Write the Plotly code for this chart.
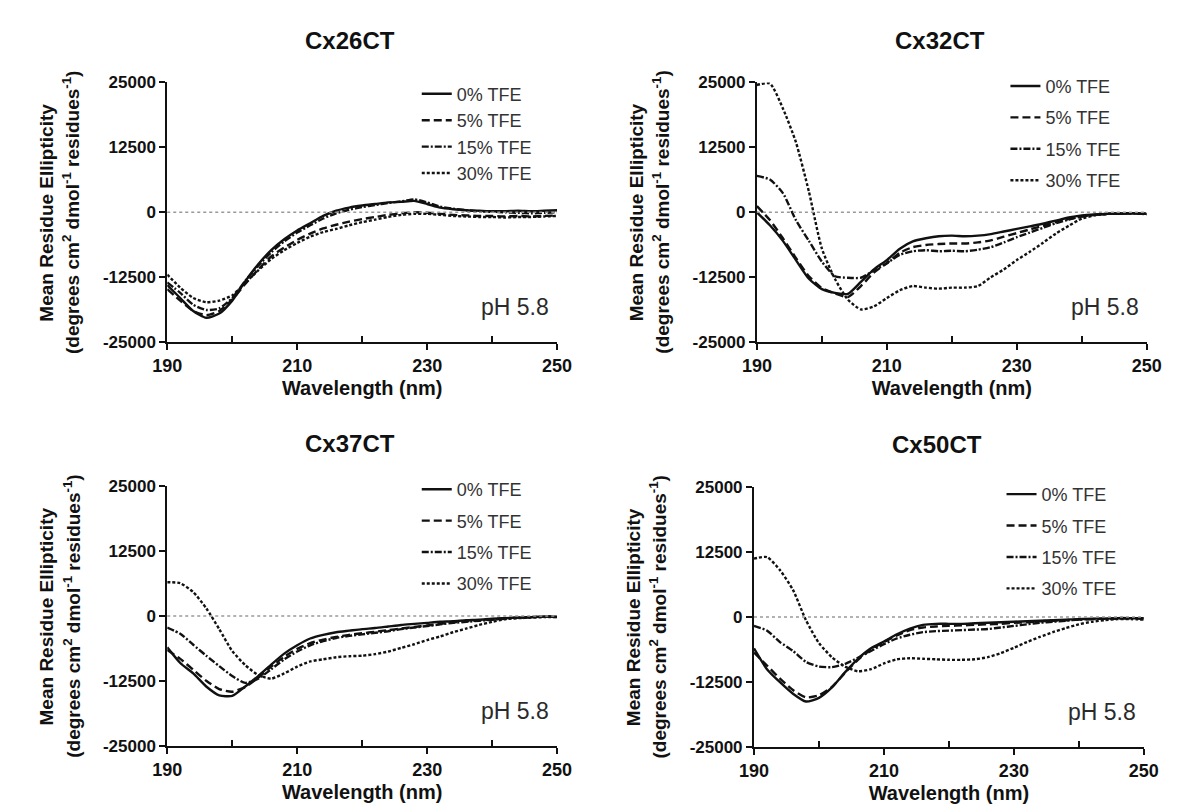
import plotly.graph_objects as go

# ---------------- data ----------------
wavelength = list(range(190, 251, 2))
series_names = ["0% TFE", "5% TFE", "15% TFE", "30% TFE"]
panel_titles = ["Cx26CT", "Cx32CT", "Cx37CT", "Cx50CT"]
y_ticks = [-25000, -12500, 0, 12500, 25000]
y_tick_text = ["-25000", "-12500", "0", "12500", "25000"]
x_ticks = [190, 210, 230, 250]
x_minor = [200, 220, 240]

cx26_0 = [-14000, -16500, -19000, -20300, -19500, -17000, -13300, -10000, -7300, -5200, -3500, -2100, -700, 300, 900, 1300, 1600, 1900, 2000, 2200, 1600, 900, 600, 400, 300, 200, 200, 300, 200, 300, 400]
cx26_5 = [-14800, -17000, -19000, -19800, -19000, -16800, -13800, -11000, -8500, -6800, -5300, -4100, -3100, -2400, -1800, -1300, -900, -500, -200, 0, -100, -300, -500, -600, -700, -700, -800, -700, -800, -700, -600]
cx26_15 = [-13500, -15500, -17800, -18800, -18500, -16500, -13200, -10300, -7700, -5600, -3900, -2500, -1200, -200, 500, 1000, 1400, 1800, 2100, 2500, 1900, 1100, 700, 400, 200, 100, 0, -100, -200, -100, 0]
cx26_30 = [-12000, -14500, -16500, -17300, -17000, -16000, -13600, -11200, -9000, -7300, -5900, -4700, -3800, -3200, -2500, -1900, -1400, -900, -500, -300, -300, -500, -700, -800, -900, -900, -1000, -900, -900, -800, -700]

cx32_0 = [0, -2500, -5500, -9200, -12800, -14800, -15500, -15700, -13400, -11000, -9200, -7000, -5600, -5000, -4600, -4500, -4600, -4500, -4200, -3700, -3200, -2700, -2200, -1600, -1000, -600, -400, -300, -200, -200, -300]
cx32_5 = [1200, -1500, -5000, -8800, -12300, -14600, -15600, -16300, -14200, -11600, -9800, -7800, -6700, -6300, -6100, -6000, -6000, -5800, -5400, -4700, -4000, -3300, -2600, -1900, -1300, -800, -500, -300, -300, -200, -300]
cx32_15 = [7000, 6300, 3700, -1500, -5500, -9500, -12300, -12600, -12600, -11200, -9800, -8200, -7500, -7300, -7500, -7400, -7500, -7200, -6700, -5800, -4800, -3900, -3000, -2100, -1400, -800, -500, -300, -300, -200, -400]
cx32_30 = [24500, 24800, 20000, 13500, 4000, -7000, -12800, -16800, -18700, -18100, -16500, -15000, -14200, -14500, -14700, -14500, -14500, -14200, -12500, -11000, -9200, -7600, -5900, -4100, -2600, -1200, -600, -300, -200, -200, -300]

cx37_0 = [-6000, -9000, -11000, -13500, -15200, -15300, -13500, -11500, -9300, -7200, -5600, -4300, -3600, -3100, -2800, -2500, -2300, -2000, -1700, -1500, -1300, -1100, -1000, -800, -700, -500, -400, -300, -200, -100, -100]
cx37_5 = [-6500, -8200, -10300, -12400, -14000, -14500, -13600, -11800, -9700, -7800, -6300, -5200, -4500, -4000, -3600, -3300, -3000, -2700, -2400, -2100, -1800, -1500, -1200, -1000, -800, -600, -400, -300, -200, -100, -100]
cx37_15 = [-2200, -3400, -5500, -7600, -9600, -11500, -12800, -12000, -10200, -8300, -6800, -5600, -4800, -4200, -3800, -3500, -3200, -2900, -2500, -2200, -1900, -1600, -1300, -1100, -900, -700, -500, -300, -200, -100, -200]
cx37_30 = [6500, 6300, 4600, 1500, -2500, -6700, -9400, -11300, -12000, -11000, -9700, -8700, -8300, -7900, -7700, -7600, -7300, -6800, -6100, -5400, -4600, -3900, -3100, -2400, -1700, -1100, -600, -400, -300, -200, -200]

cx50_0 = [-6000, -10000, -12500, -14700, -16200, -15500, -13500, -10600, -8000, -6000, -4700, -3300, -2200, -1500, -1300, -1300, -1300, -1200, -1100, -1000, -900, -800, -700, -600, -500, -400, -300, -300, -200, -200, -200]
cx50_5 = [-6800, -9300, -11800, -14000, -15400, -15000, -13400, -10700, -8200, -6200, -4800, -3500, -2500, -2000, -1800, -1700, -1600, -1500, -1400, -1300, -1100, -1000, -800, -700, -600, -500, -400, -300, -300, -200, -300]
cx50_15 = [-1700, -2600, -4800, -6500, -8600, -9500, -9600, -9000, -7800, -6500, -5200, -4100, -3400, -2900, -2700, -2600, -2500, -2400, -2300, -2000, -1700, -1400, -1100, -900, -700, -500, -400, -300, -300, -200, -300]
cx50_30 = [11200, 11500, 9000, 5200, -600, -5000, -7700, -9500, -10400, -10000, -8900, -8100, -7900, -8000, -8100, -8200, -8200, -8100, -7700, -6900, -5900, -4800, -3800, -2900, -2100, -1400, -900, -600, -400, -400, -500]

panels = [
    [cx26_0, cx26_5, cx26_15, cx26_30],
    [cx32_0, cx32_5, cx32_15, cx32_30],
    [cx37_0, cx37_5, cx37_15, cx37_30],
    [cx50_0, cx50_5, cx50_15, cx50_30],
]

# ---------------- layout helpers ----------------
W, H = 1183, 808
FONT = "Liberation Sans"

def px_x(p):
    return p / W

def px_y(p):
    return 1 - p / H

# plot areas in pixels: (left, right, top, bottom)
areas = [
    (148, 548, 67, 333),
    (753, 1153, 67, 333),
    (148, 548, 480, 747),
    (750, 1150, 481, 748),
]
legend_pos = [(404, 60), (1008, 52), (404, 465), (1004, 470)]
legend_gap = [0, 5, 5, 5]
dashes = ["solid", "8px,4px", "7px,2px,2px,2px", "3px,2px"]

fig = go.Figure()

for i, (series, title) in enumerate(zip(panels, panel_titles)):
    n = "" if i == 0 else str(i + 1)
    leg = "legend" if i == 0 else f"legend{i + 1}"
    for j, (name, vals, dash) in enumerate(zip(series_names, series, dashes)):
        fig.add_trace(go.Scatter(
            x=wavelength, y=vals, mode="lines", name=name,
            line=dict(color="#111111", width=2.4, dash=dash, shape="spline", smoothing=0.6),
            xaxis=f"x{n}", yaxis=f"y{n}", legend=leg, legendgroup=f"p{i}s{j}",
        ))
    l, r, t, b = areas[i]
    fig.update_layout(**{
        f"xaxis{n}": dict(
            domain=[px_x(l), px_x(r)], anchor=f"y{n}", range=[190, 250],
            tickvals=x_ticks, ticks="outside", ticklen=6, tickwidth=2, tickcolor="#111",
            showline=True, linecolor="#111", linewidth=2, showgrid=False, zeroline=False,
            tickfont=dict(family=FONT, size=18, color="#111", weight="bold"),
            minor=dict(tickvals=x_minor, ticks="inside", ticklen=6, tickwidth=2, tickcolor="#111"),
            title=dict(text="Wavelength (nm)", font=dict(family=FONT, size=20, color="#111", weight="bold"), standoff=6),
        ),
        f"yaxis{n}": dict(
            domain=[px_y(b), px_y(t)], anchor=f"x{n}", range=[-25000, 25000],
            tickvals=y_ticks, ticktext=y_tick_text, ticks="outside", ticklen=6, tickwidth=2, tickcolor="#111",
            showline=True, linecolor="#111", linewidth=2, showgrid=False, zeroline=False,
            tickfont=dict(family=FONT, size=17, color="#111", weight="bold"),
        ),
    })
    lx, ly = legend_pos[i]
    fig.update_layout(**{leg: dict(
        x=px_x(lx), y=px_y(ly), xanchor="left", yanchor="top",
        font=dict(family=FONT, size=18, color="#333"), bgcolor="rgba(0,0,0,0)",
        borderwidth=0, itemwidth=30, tracegroupgap=legend_gap[i],
    )})
    # zero reference line
    fig.add_shape(type="line", xref=f"x{n} domain", yref=f"y{n}", x0=0, x1=1, y0=0, y1=0,
                  line=dict(color="#999", width=1.5, dash="dot"))
    # panel title
    fig.add_annotation(text=title, xref="paper", yref="paper",
                       x=px_x(l + 0.47 * (r - l)), y=px_y(t - 43), showarrow=False,
                       xanchor="center", yanchor="middle",
                       font=dict(family=FONT, size=24, color="#111", weight="bold"))
    # pH label
    fig.add_annotation(text="pH 5.8", xref=f"x{n} domain", yref=f"y{n}",
                       x=0.985, y=-18300, showarrow=False, xanchor="right", yanchor="middle",
                       font=dict(family=FONT, size=23, color="#2a2a2a"))
    # y-axis title (two lines)
    cy = px_y((t + b) / 2)
    fig.add_annotation(text="Mean Residue Ellipticity", xref="paper", yref="paper",
                       x=px_x(l - 124), y=cy, textangle=-90, showarrow=False,
                       xanchor="center", yanchor="middle",
                       font=dict(family=FONT, size=19, color="#111", weight="bold"))
    fig.add_annotation(text="(degrees cm<sup>2</sup> dmol<sup>-1</sup> residues<sup>-1</sup>)",
                       xref="paper", yref="paper",
                       x=px_x(l - 98), y=cy, textangle=-90, showarrow=False,
                       xanchor="center", yanchor="middle",
                       font=dict(family=FONT, size=19, color="#111", weight="bold"))

fig.update_layout(
    width=W, height=H, margin=dict(l=0, r=0, t=0, b=0),
    paper_bgcolor="white", plot_bgcolor="white", showlegend=True,
)

fig.write_html("out.html")
